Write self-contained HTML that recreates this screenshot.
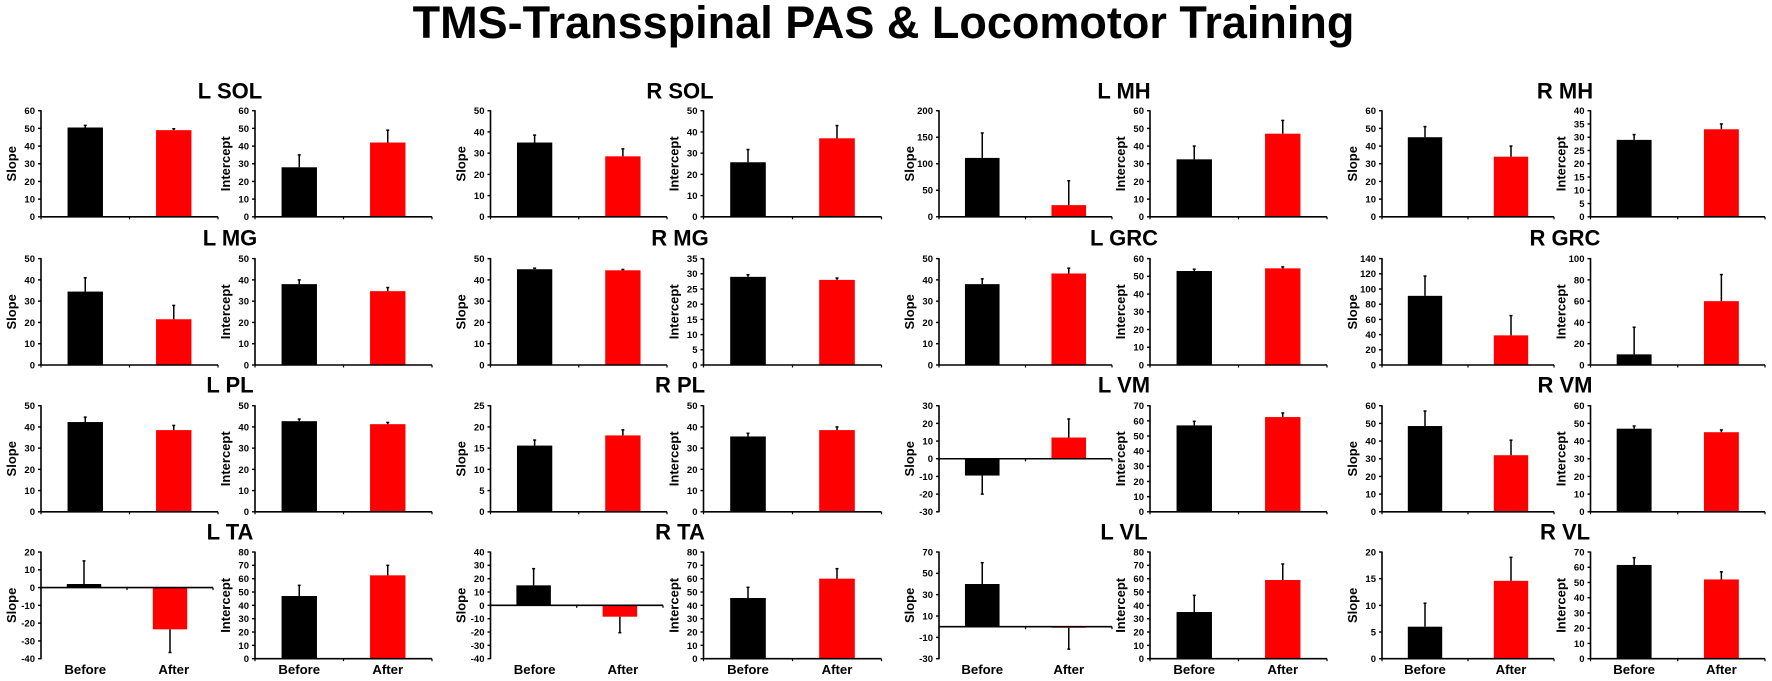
<!DOCTYPE html>
<html lang="en">
<head>
<meta charset="utf-8">
<title>TMS-Transspinal PAS &amp; Locomotor Training</title>
<style>
html,body{margin:0;padding:0;background:#fff;width:1772px;height:681px;overflow:hidden}
svg{display:block;font-family:"Liberation Sans",Arial,sans-serif;font-weight:bold;fill:#000;filter:blur(0.35px)}
</style>
</head>
<body>
<svg id="figure" xmlns="http://www.w3.org/2000/svg" width="1772" height="681" viewBox="0 0 1772 681">
<text x="883.5" y="38" text-anchor="middle" font-size="45">TMS-Transspinal PAS &amp; Locomotor Training</text>
</svg>
<script>
// ---------- Data: one entry per muscle, read left-to-right, top-to-bottom ----------
const muscles = [
  'L SOL','R SOL','L MH','R MH',
  'L MG','R MG','L GRC','R GRC',
  'L PL','R PL','L VM','R VM',
  'L TA','R TA','L VL','R VL'
];
const conditions = ['Before','After'];

const slopeValues = [
  [50.5,49],[35,28.5],[111,22],[45,34],
  [34.5,21.5],[45,44.5],[38,43],[91,39],
  [42.3,38.5],[15.6,18],[-9.5,12],[48.5,32],
  [2,-23.5],[15,-8.5],[40,-1],[6,14.6]
];
const slopeErrors = [
  [1.2,0.8],[3.5,3.5],[47,46],[6,6],
  [6.5,6.5],[0.5,0.4],[2.5,2.5],[26,26],
  [2.3,2.2],[1.3,1.3],[10.5,10.5],[8.5,8.5],
  [13,13],[12.5,12],[20,20],[4.4,4.4]
];
const slopeTicks = [
  [0,10,20,30,40,50,60],[0,10,20,30,40,50],[0,50,100,150,200],[0,10,20,30,40,50,60],
  [0,10,20,30,40,50],[0,10,20,30,40,50],[0,10,20,30,40,50],[0,20,40,60,80,100,120,140],
  [0,10,20,30,40,50],[0,5,10,15,20,25],[-30,-20,-10,0,10,20,30],[0,10,20,30,40,50,60],
  [-40,-30,-20,-10,0,10,20],[-40,-30,-20,-10,0,10,20,30,40],[-30,-10,10,30,50,70],[0,5,10,15,20]
];

const interceptValues = [
  [28,42],[25.7,37],[32.5,47],[29,33],
  [38,34.7],[29,28],[53,54.5],[10,60],
  [42.7,41.3],[35.5,38.5],[57,62.5],[47,45],
  [47,62.5],[45.5,60],[35,59],[61.5,52]
];
const interceptErrors = [
  [7,7],[6,6],[7.5,7.5],[2,2],
  [2,1.7],[0.7,0.6],[1,0.8],[25.5,25],
  [1,0.8],[1.5,1.5],[2.7,2.7],[1.5,1.3],
  [8,7.5],[8,7.5],[12.5,12],[4.8,5]
];
const interceptTicks = [
  [0,10,20,30,40,50,60],[0,10,20,30,40,50],[0,10,20,30,40,50,60],[0,5,10,15,20,25,30,35,40],
  [0,10,20,30,40,50],[0,5,10,15,20,25,30,35],[0,10,20,30,40,50,60],[0,20,40,60,80,100],
  [0,10,20,30,40,50],[0,10,20,30,40,50],[0,10,20,30,40,50,60,70],[0,10,20,30,40,50,60],
  [0,10,20,30,40,50,60,70,80],[0,10,20,30,40,50,60,70,80],[0,10,20,30,40,50,60,70,80],[0,10,20,30,40,50,60,70]
];

// ---------- Layout (page geometry, not data) ----------
const rowFrames = [
  {top:110.7,bottom:216.8,titleY:98.3},
  {top:258.6,bottom:365,titleY:245.7},
  {top:405.7,bottom:511.8,titleY:392.7},
  {top:552,bottom:658.7,titleY:539.3}
];
const colFrames = [
  {titleX:230, slope:[41,218],    intercept:[255,432]},
  {titleX:680, slope:[490.5,667], intercept:[703.5,881.5]},
  {titleX:1124,slope:[939,1112],  intercept:[1150,1327]},
  {titleX:1565,slope:[1382,1554], intercept:[1590.5,1765]}
];
const narrowSlopeEnd = {'L TA':213,'R TA':663};
const barColors = ['#000000','#ff0000'];

// ---------- Drawing ----------
const svg = document.getElementById('figure');
const NS = 'http://www.w3.org/2000/svg';

function make(parent, tag, attrs, name) {
  const el = document.createElementNS(NS, tag);
  for (const k in attrs) el.setAttribute(k, attrs[k]);
  
  
  parent.appendChild(el);
  return el;
}
function line(parent, x1, y1, x2, y2, w, name) {
  return make(parent, 'line', {x1:x1, y1:y1, x2:x2, y2:y2, stroke:'#000', 'stroke-width':w}, name);
}

function drawPanel(parent, muscle, kind, x0, xEnd, labelSpan, top, bottom, values, errors, ticks, showCats) {
  const slug = muscle.toLowerCase().replace(' ', '-') + '-' + kind.toLowerCase();
  const g = make(parent, 'g', {}, slug + '-panel');
  const lo = ticks[0], hi = ticks[ticks.length - 1];
  const y = v => bottom - (v - lo) / (hi - lo) * (bottom - top);
  const w = xEnd - x0;
  const x = i => x0 + w * (i + 0.5) / values.length;
  const barW = w * 0.2;

  // bars first, so that the axes sit on top of them
  values.forEach((v, i) => {
    const yv = y(v), y0 = y(0);
    const name = conditions[i].toLowerCase();
    make(g, 'rect', {x:x(i) - barW / 2, y:Math.min(yv, y0), width:barW, height:Math.max(Math.abs(y0 - yv), 0.8), fill:barColors[i]}, slug + '-bar-' + name);
    const dir = v >= 0 ? 1 : -1;
    const yTip = y(v + dir * errors[i]);
    line(g, x(i), yv, x(i), yTip, 1.5, slug + '-error-' + name);
    line(g, x(i) - 1.5, yTip, x(i) + 1.5, yTip, 1.5, slug + '-error-cap-' + name);
  });

  // y axis
  line(g, x0, top - 0.5, x0, bottom + 0.5, 1.6, slug + '-y-axis');
  ticks.forEach(t => {
    line(g, x0 - 3, y(t), x0, y(t), 1.4, slug + '-y-tick');
    const lab = make(g, 'text', {x:x0 - 6, y:y(t) + 3.4, 'text-anchor':'end', 'font-size':9.5}, slug + '-y-tick-label');
    lab.textContent = t;
  });
  const yc = (top + bottom) / 2;
  const title = make(g, 'text', {x:x0 - 25, y:yc, 'text-anchor':'middle', 'font-size':13, transform:'rotate(-90 ' + (x0 - 25) + ' ' + yc + ')'}, slug + '-y-axis-title');
  title.textContent = kind;

  // x axis crosses at zero
  const yz = y(0);
  line(g, x0, yz, xEnd, yz, 1.6, slug + '-x-axis');
  [x0, (x0 + xEnd) / 2, xEnd].forEach(tx => {
    line(g, tx, yz, tx, yz + 2.5, 1.2, slug + '-x-tick');
  });

  if (showCats) {
    conditions.forEach((c, i) => {
      const cx = labelSpan[0] + (labelSpan[1] - labelSpan[0]) * (i + 0.5) / conditions.length;
      const lab = make(g, 'text', {x:cx, y:674, 'text-anchor':'middle', 'font-size':13.2}, slug + '-category-label-' + c.toLowerCase());
      lab.textContent = c;
    });
  }
}

muscles.forEach((muscle, idx) => {
  const row = rowFrames[Math.floor(idx / colFrames.length)];
  const col = colFrames[idx % colFrames.length];
  const isBottom = Math.floor(idx / colFrames.length) === rowFrames.length - 1;
  const t = make(svg, 'text', {x:col.titleX, y:row.titleY, 'text-anchor':'middle', 'font-size':22}, muscle.toLowerCase().replace(' ', '-') + '-title');
  t.textContent = muscle;
  const slopeEnd = narrowSlopeEnd[muscle] || col.slope[1];
  drawPanel(svg, muscle, 'Slope', col.slope[0], slopeEnd, col.slope, row.top, row.bottom,
            slopeValues[idx], slopeErrors[idx], slopeTicks[idx], isBottom);
  drawPanel(svg, muscle, 'Intercept', col.intercept[0], col.intercept[1], col.intercept, row.top, row.bottom,
            interceptValues[idx], interceptErrors[idx], interceptTicks[idx], isBottom);
});
</script>
</body>
</html>
